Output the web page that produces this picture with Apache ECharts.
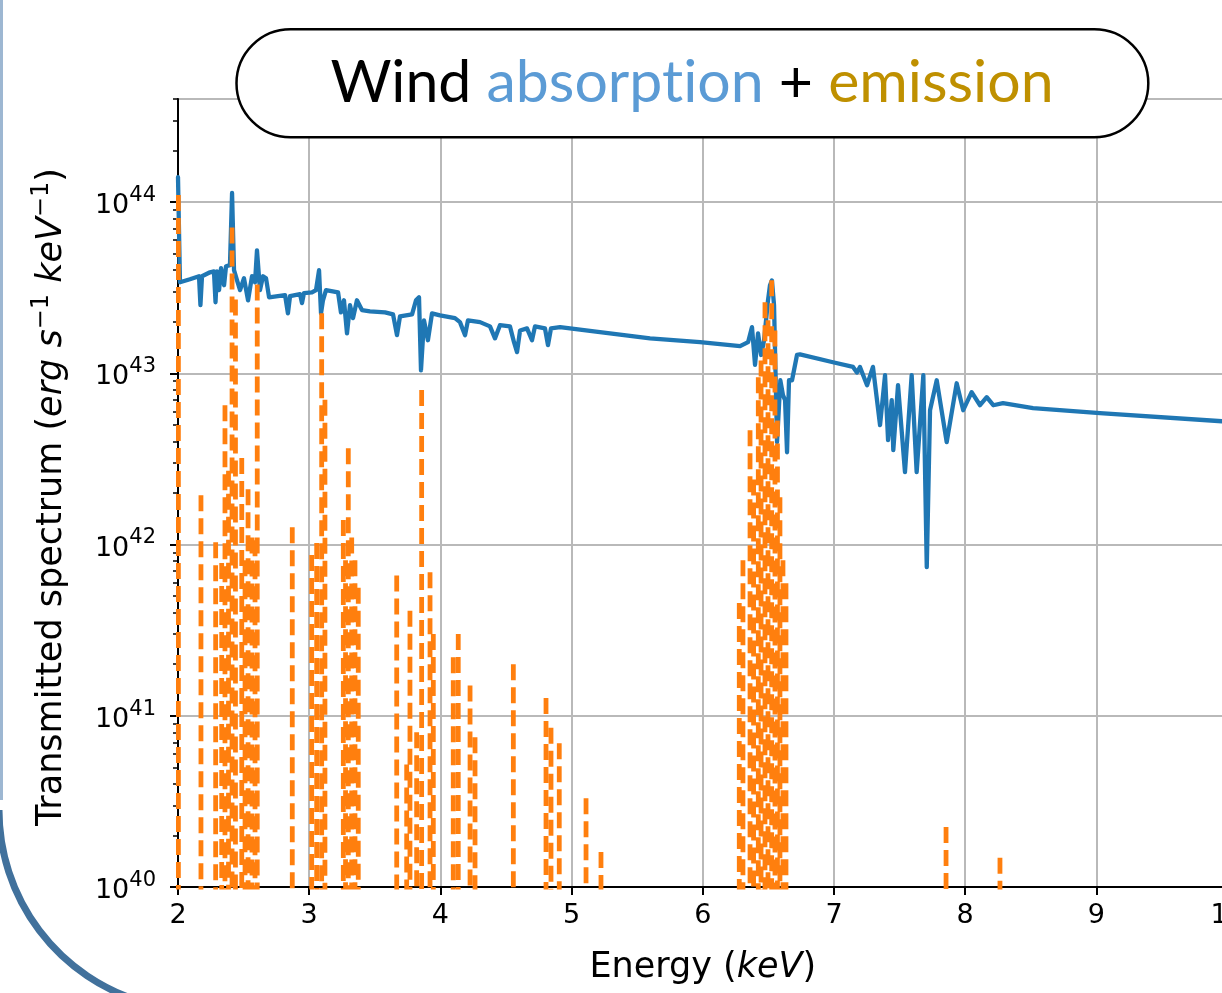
<!DOCTYPE html>
<html>
<head>
<meta charset="utf-8">
<script src="https://cdn.jsdelivr.net/npm/echarts@6/dist/echarts.min.js"></script>
<style>
html,body{margin:0;padding:0;overflow:hidden;background:#fff;width:1222px;height:993px;}
#c{width:1240px;height:993px;}
</style>
</head>
<body>
<div id="c"></div>
<script>
// ---------- data ----------
const xTicks = [2, 3, 4, 5, 6, 7, 8, 9, 10];
const yTickExponents = [40, 41, 42, 43, 44];
const yMin = 1e40;
const yMax = 4e44;

// absorbed (transmitted) spectrum, blue solid line
const absorptionEnergy = [
  2.000, 2.015, 2.091, 2.160, 2.171, 2.183, 2.244, 2.274, 2.286, 2.297,
  2.313, 2.328, 2.351, 2.366, 2.396, 2.412, 2.427, 2.450, 2.473, 2.503,
  2.534, 2.564, 2.587, 2.602, 2.625, 2.648, 2.671, 2.694, 2.816, 2.838,
  2.854, 2.930, 2.945, 2.960, 3.021, 3.052, 3.075, 3.090, 3.105, 3.128,
  3.220, 3.242, 3.265, 3.288, 3.311, 3.334, 3.364, 3.402, 3.463, 3.578,
  3.639, 3.669, 3.692, 3.784, 3.814, 3.837, 3.852, 3.875, 3.905, 3.936,
  3.997, 4.111, 4.149, 4.188, 4.210, 4.302, 4.378, 4.416, 4.454, 4.530,
  4.561, 4.584, 4.607, 4.660, 4.698, 4.721, 4.797, 4.820, 4.843, 4.912,
  5.216, 5.598, 5.979, 6.284, 6.345, 6.375, 6.398, 6.421, 6.444, 6.467,
  6.497, 6.512, 6.527, 6.543, 6.566, 6.591, 6.611, 6.627, 6.642, 6.657,
  6.680, 6.718, 6.741, 6.992, 7.145, 7.175, 7.198, 7.252, 7.297, 7.351,
  7.389, 7.412, 7.440, 7.452, 7.488, 7.541, 7.592, 7.630, 7.681, 7.707,
  7.732, 7.783, 7.859, 7.935, 7.985, 8.049, 8.113, 8.164, 8.214, 8.288,
  8.517, 9.027, 9.957, 10.0
];
const absorptionFlux = [
  1.40e44, 3.40e43, 3.54e43, 3.69e43, 2.50e43, 3.69e43, 3.89e43, 3.94e43, 2.60e43, 3.94e43,
  3.06e43, 4.11e43, 3.27e43, 4.22e43, 4.28e43, 1.13e44, 4.00e43, 3.49e43, 3.06e43, 3.59e43,
  2.67e43, 3.69e43, 3.40e43, 5.23e43, 3.06e43, 3.69e43, 3.59e43, 2.78e43, 2.86e43, 2.24e43,
  2.82e43, 2.90e43, 2.57e43, 2.94e43, 2.97e43, 3.06e43, 4.00e43, 2.24e43, 2.67e43, 3.06e43,
  2.97e43, 2.27e43, 2.67e43, 1.71e43, 2.50e43, 2.10e43, 2.67e43, 2.34e43, 2.30e43, 2.27e43,
  2.21e43, 1.67e43, 2.15e43, 2.21e43, 2.67e43, 2.78e43, 1.04e43, 2.04e43, 1.56e43, 2.24e43,
  2.18e43, 2.10e43, 1.99e43, 1.67e43, 2.04e43, 1.99e43, 1.88e43, 1.60e43, 1.91e43, 1.88e43,
  1.52e43, 1.33e43, 1.78e43, 1.83e43, 1.56e43, 1.88e43, 1.83e43, 1.46e43, 1.83e43, 1.86e43,
  1.74e43, 1.60e43, 1.52e43, 1.44e43, 1.52e43, 1.86e43, 1.12e43, 1.71e43, 1.28e43, 1.56e43,
  2.67e43, 3.27e43, 3.49e43, 2.50e43, 3.96e42, 9.11e42, 7.45e42, 6.97e42, 3.46e42, 9.11e42,
  9.11e42, 1.28e43, 1.29e43, 1.16e43, 1.09e43, 1.01e43, 1.09e43, 8.52e42, 1.09e43, 4.98e42,
  9.75e42, 4.07e42, 6.97e42, 3.56e42, 8.52e42, 2.65e42, 9.75e42, 2.65e42, 9.75e42, 7.38e41,
  6.09e42, 9.11e42, 3.96e42, 8.75e42, 6.09e42, 7.76e42, 6.51e42, 7.25e42, 6.51e42, 6.69e42,
  6.26e42, 5.85e42, 5.25e42, 5.22e42
];

// emission lines, orange dashed line: line energy and peak height
const emissionEnergy = [
  2.003, 2.175, 2.287, 2.333, 2.358, 2.385, 2.412, 2.438, 2.486, 2.511,
  2.534, 2.564, 2.587, 2.604, 2.871, 3.019, 3.057, 3.095, 3.120, 3.260,
  3.277, 3.298, 3.324, 3.349, 3.374,
  3.667, 3.743, 3.768, 3.819, 3.857, 3.921, 3.946, 4.098, 4.136, 4.226,
  4.264, 4.556, 4.805, 4.843, 4.906, 5.110, 5.224,
  6.278, 6.306, 6.360, 6.387, 6.423, 6.444, 6.474, 6.497, 6.525, 6.550,
  6.569, 6.588, 6.611, 6.634, 7.854, 8.265
];
const emissionPeak = [
  1.10e44, 1.94e42, 1.03e42, 7.8e41, 6.5e42, 2.7e42, 7.1e43, 2.7e43, 3.2e42, 8.1e41,
  2.1e42, 1.1e42, 1.06e42, 3.3e43, 1.26e42, 8.7e41, 1.02e42, 2.24e43, 7.0e42, 1.39e42,
  8.1e41, 3.65e42, 1.10e42, 8.1e41, 5.6e41,
  6.6e41, 5.2e40, 4.1e41, 8.0e40, 8.0e42, 6.9e41, 3.0e41, 2.2e41, 3.0e41, 1.5e41,
  7.5e40, 2.0e41, 1.27e41, 8.5e40, 6.9e40, 3.3e40, 1.6e40,
  4.55e41, 8.1e41, 4.65e42, 2.4e42, 9.5e42, 1.19e43, 2.6e43, 2.04e43, 3.49e43, 1.78e43,
  5.3e42, 1.89e42, 8.1e41, 5.95e41, 2.24e40, 1.48e40
];
const emissionFloor = 1e37; // continuum level of the emission model, far below the axis

// ---------- build series data ----------
const absorptionData = absorptionEnergy.map((e, i) => [e, absorptionFlux[i]]);
const emissionData = [];
emissionEnergy.forEach((e, i) => {
  emissionData.push([e, emissionPeak[i]]);  // each line drawn from its peak down
  emissionData.push([e, emissionFloor]);
  emissionData.push([e, '-']);              // break between lines
});
const minorTickLogs = [];
yTickExponents.forEach(n => {
  for (let k = 2; k <= 9; k++) {
    const v = n + Math.log10(k);
    if (v <= Math.log10(yMax) + 1e-9) minorTickLogs.push(v);
  }
});

const FONT = "'DejaVu Sans', 'Noto Sans', sans-serif";
const TITLE_FONT = "Lato, 'Open Sans', sans-serif";
const chart = echarts.init(document.getElementById('c'), null, {renderer: 'canvas'});
chart.setOption({
  animation: false,
  backgroundColor: '#ffffff',
  grid: {
    left: 178, top: 99, right: 12.4, bottom: 106,
    show: true, borderColor: '#000', borderWidth: 2,
    containLabel: false, outerBoundsMode: 'none'
  },
  xAxis: {
    type: 'value', min: 2, max: 10, interval: 1,
    name: 'Energy ({i|keV})', nameLocation: 'middle', nameGap: 63,
    nameTextStyle: {
      fontSize: 35, fontFamily: FONT, color: '#000',
      rich: {i: {fontSize: 35, fontFamily: FONT, fontStyle: 'italic', color: '#000'}}
    },
    axisLine: {show: true, lineStyle: {color: '#000', width: 2}},
    axisTick: {show: true, inside: false, length: 8, lineStyle: {color: '#000', width: 2}},
    axisLabel: {
      show: true, margin: 15, fontSize: 27, fontFamily: FONT, color: '#000',
      showMinLabel: true, showMaxLabel: true,
      formatter: v => (xTicks.includes(v) ? String(v) : '')
    },
    splitLine: {show: true, lineStyle: {color: '#b9b9b9', width: 2}}
  },
  yAxis: [{
    type: 'log', logBase: 10, min: yMin, max: yMax,
    name: 'Transmitted spectrum ({i|erg s}{s|−1}{i| keV}{s|−1})',
    nameLocation: 'middle', nameGap: 104, nameRotate: 90,
    nameTextStyle: {
      fontSize: 35, fontFamily: FONT, color: '#000', lineHeight: 44, padding: [0, 8, 0, 0],
      rich: {
        i: {fontSize: 35, fontFamily: FONT, fontStyle: 'italic', color: '#000', lineHeight: 44},
        s: {fontSize: 24, fontFamily: FONT, color: '#000', verticalAlign: 'top', lineHeight: 26}
      }
    },
    axisLine: {show: true, lineStyle: {color: '#000', width: 2}},
    axisTick: {show: true, inside: false, length: 8, lineStyle: {color: '#000', width: 2}},
    axisLabel: {
      show: true, margin: 22, color: '#000', showMinLabel: true, showMaxLabel: false,
      fontSize: 27, fontFamily: FONT, lineHeight: 34,
      formatter: v => {
        const e = Math.log10(v); const r = Math.round(e);
        return (Math.abs(e - r) < 1e-6 && yTickExponents.includes(r)) ? '{b|10}{sup|' + r + '}' : '';
      },
      rich: {
        b: {fontSize: 27, fontFamily: FONT, color: '#000', lineHeight: 34, padding: [8, 0, 0, 0]},
        sup: {fontSize: 21, fontFamily: FONT, color: '#000', verticalAlign: 'top', lineHeight: 22}
      }
    },
    splitLine: {show: true, lineStyle: {color: '#b9b9b9', width: 2}},
    minorTick: {show: false}
  }, {
    type: 'value', position: 'left', offset: 0,
    min: Math.log10(yMin), max: Math.log10(yMax),
    axisLine: {show: false}, axisLabel: {show: false}, splitLine: {show: false},
    axisTick: {show: true, inside: false, length: 5, customValues: minorTickLogs,
      lineStyle: {color: '#000', width: 1.5}}
  }],
  series: [{
    name: 'absorption', type: 'line', data: absorptionData, yAxisIndex: 0,
    showSymbol: false, symbol: 'none', clip: true, z: 3,
    lineStyle: {color: '#1f77b4', width: 4.3, join: 'round', cap: 'round'}
  }, {
    name: 'emission', type: 'line', data: emissionData, yAxisIndex: 0,
    showSymbol: false, symbol: 'none', clip: true, z: 4, connectNulls: false,
    lineStyle: {color: '#ff7f0e', width: 4.8, type: [16, 7], join: 'round', cap: 'butt'}
  }],
  graphic: [
    {type: 'line', silent: true, z: 50,
     shape: {x1: 1.5, y1: 0, x2: 1.5, y2: 800},
     style: {stroke: '#9db7d2', lineWidth: 3}},
    {type: 'arc', silent: true, z: 50,
     shape: {cx: 199, cy: 810, r: 200, startAngle: 1.85, endAngle: Math.PI, clockwise: true},
     style: {stroke: '#41719c', lineWidth: 7, fill: null}},
    {type: 'rect', silent: true, z: 100,
     shape: {x: 236.5, y: 29.3, width: 911.8, height: 108, r: 54},
     style: {fill: '#ffffff', stroke: '#000', lineWidth: 2.5}},
    {type: 'text', silent: true, z: 101,
     style: {
       x: 692, y: 83, align: 'center', verticalAlign: 'middle',
       text: '{k|Wind }{a|absorpt\u200Cion}{k| + }{e|emission}',
       rich: {
         k: {fontSize: 59, fontFamily: TITLE_FONT, fill: '#000'},
         a: {fontSize: 59, fontFamily: TITLE_FONT, fill: '#5b9bd5'},
         e: {fontSize: 59, fontFamily: TITLE_FONT, fill: '#bf9000'}
       }
     }}
  ]
});
</script>
</body>
</html>
